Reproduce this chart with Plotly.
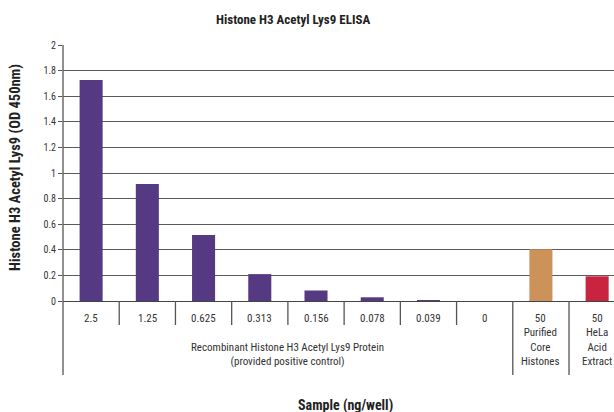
import plotly.graph_objects as go

categories = ["2.5", "1.25", "0.625", "0.313", "0.156", "0.078", "0.039", "0",
              "50<br>Purified<br>Core<br>Histones", "50<br>HeLa<br>Acid<br>Extract"]
values = [1.727, 0.914, 0.516, 0.21, 0.082, 0.029, 0.003, 0.0, 0.404, 0.193]
bar_colors = ["#553a83"] * 8 + ["#cc925a", "#c8243f"]
group_label = "Recombinant Histone H3 Acetyl Lys9 Protein<br>(provided positive control)"
y_ticks = [0, 0.2, 0.4, 0.6, 0.8, 1, 1.2, 1.4, 1.6, 1.8, 2]

FONT = "Liberation Sans Narrow, Roboto Condensed, Roboto, Liberation Sans, sans-serif"
xs = list(range(len(categories)))
xmin, xmax = -0.5, 9.3

W, H = 614, 412
L, T = 63, 45
PH = 256
B = H - T - PH
PW = W - L

fig = go.Figure(go.Bar(x=xs, y=values, marker=dict(color=bar_colors, line=dict(width=0)),
                       hoverinfo="skip"))

def px(v):
    return (v - xmin) / (xmax - xmin)

shapes = []
for i in range(len(categories)):
    b = i + 0.5
    tall = i in (7, 8, 9)
    shapes.append(dict(type="line", xref="paper", yref="paper", x0=px(b), x1=px(b),
                       y0=0, y1=-74 / PH if tall else -24 / PH,
                       line=dict(color="#555555", width=1.3)))
shapes.append(dict(type="line", xref="paper", yref="paper", x0=px(-0.5), x1=px(-0.5),
                   y0=1, y1=-74 / PH, line=dict(color="#555555", width=1.3)))

annotations = []
for i, c in enumerate(categories):
    annotations.append(dict(x=i, xref="x", y=-9 / PH, yref="paper", text=c, showarrow=False,
                            yanchor="top", xanchor="center",
                            font=dict(family=FONT, size=11, color="#333333")))
annotations.append(dict(x=3.5, xref="x", y=-38 / PH, yref="paper", text=group_label,
                        showarrow=False, yanchor="top", xanchor="center",
                        font=dict(family=FONT, size=11, color="#333333")))
annotations.append(dict(x=(345 - L) / PW, xref="paper", y=-104 / PH, yref="paper",
                        text="<b>Sample (ng/well)</b>", yanchor="middle", xanchor="center",
                        showarrow=False, font=dict(family=FONT, size=14, color="#222222")))
annotations.append(dict(x=(15 - L) / PW, xref="paper", y=(PH - 123) / PH, yref="paper",
                        text="<b>Histone H3 Acetyl Lys9 (OD 450nm)</b>", textangle=-90,
                        xanchor="center", yanchor="middle", showarrow=False,
                        font=dict(family=FONT, size=14.5, color="#222222")))
annotations.append(dict(x=(293 - L) / PW, xref="paper", y=1 + 26 / PH, yref="paper",
                        text="<b>Histone H3 Acetyl Lys9 ELISA</b>", xanchor="center",
                        yanchor="middle", showarrow=False,
                        font=dict(family=FONT, size=13, color="#222222")))

fig.update_layout(
    width=W, height=H,
    margin=dict(l=L, r=0, t=T, b=B, autoexpand=False),
    paper_bgcolor="white", plot_bgcolor="white",
    bargap=0.59,
    showlegend=False,
    xaxis=dict(range=[xmin, xmax], showticklabels=False, showgrid=False, zeroline=False,
               showline=False, ticks="", automargin=False),
    yaxis=dict(range=[0, 2], tickvals=y_ticks, ticktext=[f"{v:g}" for v in y_ticks],
               showgrid=True, gridcolor="#5a5a5a", gridwidth=1.2,
               zeroline=True, zerolinecolor="#444444", zerolinewidth=1.3,
               showline=False, ticks="outside", ticklen=4, tickcolor="#555555",
               automargin=False,
               tickfont=dict(family=FONT, size=10, color="#333333")),
    shapes=shapes,
    annotations=annotations,
)

fig.write_html("out.html", config={"displayModeBar": False},
               post_script="document.body.style.margin='0';"
                           "document.documentElement.style.overflow='hidden';")
